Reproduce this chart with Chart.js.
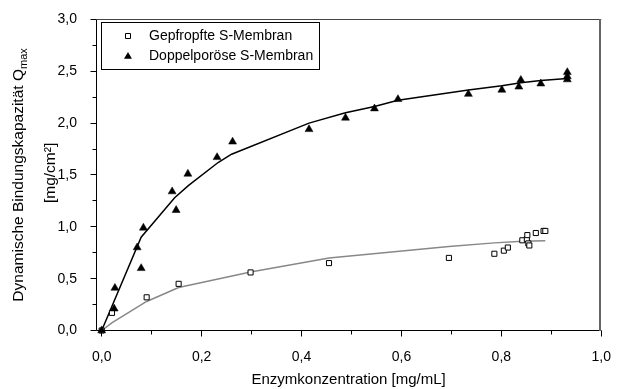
<!DOCTYPE html>
<html>
<head>
<meta charset="utf-8">
<script src="https://cdn.jsdelivr.net/npm/chart.js@4.4.1/dist/chart.umd.min.js"></script>
<style>
  body { margin: 0; background: #fff; }
  canvas { display: block; }
</style>
</head>
<body>
<canvas id="chart" width="621" height="389"></canvas>
<script>
const FONT = '"Liberation Sans", Arial, sans-serif';

// Messpunkte Doppelporöse S-Membran (Dreiecke)
const doppelX = [0, 0.025, 0.0265, 0.071, 0.079, 0.0835, 0.141, 0.149, 0.1725, 0.231, 0.262, 0.415,
                 0.488, 0.546, 0.593, 0.734, 0.801, 0.835, 0.839, 0.879, 0.932, 0.932, 0.932];
const doppelY = [0, 0.21, 0.41, 0.80, 0.60, 0.99, 1.34, 1.16, 1.51, 1.67, 1.82, 1.94,
                 2.05, 2.14, 2.23, 2.28, 2.32, 2.35, 2.415, 2.38, 2.42, 2.45, 2.49];

// Messpunkte Gepfropfte S-Membran (offene Quadrate)
const gepfX = [0, 0.0206, 0.09, 0.154, 0.298, 0.455, 0.695, 0.786, 0.805, 0.813, 0.842,
               0.851, 0.852, 0.854, 0.856, 0.869, 0.8845, 0.888];
const gepfY = [0, 0.17, 0.32, 0.45, 0.56, 0.65, 0.70, 0.74, 0.77, 0.80, 0.87,
               0.88, 0.92, 0.84, 0.82, 0.94, 0.96, 0.96];

// Fitkurven
const fitDoppelX = [0, 0.079, 0.146, 0.174, 0.233, 0.26, 0.415, 0.488, 0.546, 0.593, 0.734, 0.801, 0.839, 0.879, 0.932];
const fitDoppelY = [0, 0.90, 1.28, 1.40, 1.62, 1.70, 2.00, 2.10, 2.16, 2.22, 2.32, 2.36, 2.39, 2.41, 2.43];
const fitGepfX = [0, 0.021, 0.09, 0.154, 0.298, 0.455, 0.695, 0.786, 0.842, 0.888];
const fitGepfY = [0, 0.076, 0.28, 0.415, 0.565, 0.70, 0.81, 0.845, 0.86, 0.865];

// Achsenbeschriftung
const xMajor = [0, 0.2, 0.4, 0.6, 0.8, 1.0];
const xMinor = [0.1, 0.3, 0.5, 0.7, 0.9];
const yMajor = [0, 0.5, 1.0, 1.5, 2.0, 2.5, 3.0];
const yMinor = [0.25, 0.75, 1.25, 1.75, 2.25, 2.75];

const legendeTexte = ['Gepfropfte S-Membran', 'Doppelporöse S-Membran'];

const toPts = (xs, ys) => xs.map((x, i) => ({ x: x, y: ys[i] }));
const komma = v => Number(v).toFixed(1).replace('.', ',');
const crisp = v => Math.floor(v) + 0.5;

const rahmen = {
  id: 'rahmen',
  afterDraw(chart) {
    const ctx = chart.ctx;
    const a = chart.chartArea;
    const sx = chart.scales.x, sy = chart.scales.y;
    const L = crisp(a.left), B = crisp(a.bottom), T = crisp(a.top);
    ctx.save();

    // Rahmen
    ctx.lineWidth = 1;
    ctx.strokeStyle = '#000';
    ctx.beginPath();
    ctx.moveTo(L, T); ctx.lineTo(L, B); ctx.lineTo(a.right, B);
    ctx.stroke();
    ctx.strokeStyle = '#444';
    ctx.beginPath();
    ctx.moveTo(L, T); ctx.lineTo(a.right, T);
    ctx.stroke();
    ctx.lineWidth = 2;
    ctx.strokeStyle = '#666';
    ctx.beginPath();
    ctx.moveTo(Math.round(a.right) - 1, T - 0.5); ctx.lineTo(Math.round(a.right) - 1, B + 0.5);
    ctx.stroke();

    // Teilstriche
    ctx.lineWidth = 1;
    ctx.strokeStyle = '#000';
    ctx.beginPath();
    yMajor.forEach(v => { const p = crisp(sy.getPixelForValue(v)); ctx.moveTo(L - 6, p); ctx.lineTo(L, p); });
    yMinor.forEach(v => { const p = crisp(sy.getPixelForValue(v)); ctx.moveTo(L - 4, p); ctx.lineTo(L, p); });
    xMajor.forEach(v => { const p = crisp(sx.getPixelForValue(v)); ctx.moveTo(p, B); ctx.lineTo(p, B + 6); });
    xMinor.forEach(v => { const p = crisp(sx.getPixelForValue(v)); ctx.moveTo(p, B); ctx.lineTo(p, B + 4); });
    ctx.stroke();

    // Legende
    const lx = L + 5, ly = T + 3;
    ctx.fillStyle = '#fff';
    ctx.fillRect(lx, ly, 218, 47);
    ctx.strokeStyle = '#000';
    ctx.strokeRect(lx, ly, 218, 47);
    const sym = lx + 26.5;
    // Quadrat
    ctx.beginPath();
    ctx.rect(sym - 2.5, ly + 11, 5, 5);
    ctx.fill(); ctx.stroke();
    // Dreieck
    const r = 4.6, ty = ly + 34;
    ctx.fillStyle = '#000';
    ctx.beginPath();
    ctx.moveTo(sym, ty - r);
    ctx.lineTo(sym + r * 0.866, ty + r / 2);
    ctx.lineTo(sym - r * 0.866, ty + r / 2);
    ctx.closePath();
    ctx.fill();
    ctx.font = '14px ' + FONT;
    ctx.textBaseline = 'middle';
    ctx.textAlign = 'left';
    ctx.fillText(legendeTexte[0], lx + 47.5, ly + 13.5);
    ctx.fillText(legendeTexte[1], lx + 47.5, ly + 33.5);

    // Y-Achsentitel mit Index
    const mitte = (a.top + a.bottom) / 2;
    ctx.save();
    ctx.translate(19, mitte);
    ctx.rotate(-Math.PI / 2);
    const haupt = 'Dynamische Bindungskapazität Q';
    ctx.font = '15.5px ' + FONT;
    const w1 = ctx.measureText(haupt).width;
    ctx.font = '11px ' + FONT;
    const w2 = ctx.measureText('max').width;
    const x0 = -(w1 + w2) / 2;
    ctx.font = '15.5px ' + FONT;
    ctx.fillText(haupt, x0, 0);
    ctx.font = '11px ' + FONT;
    ctx.fillText('max', x0 + w1, 5);
    ctx.restore();

    ctx.save();
    ctx.translate(51, mitte - 2);
    ctx.rotate(-Math.PI / 2);
    ctx.font = '15.5px ' + FONT;
    ctx.textAlign = 'center';
    ctx.fillText('[mg/cm²]', 0, 0);
    ctx.restore();

    ctx.restore();
  }
};

new Chart(document.getElementById('chart'), {
  type: 'scatter',
  data: {
    datasets: [
      {
        label: 'Doppelporöse S-Membran',
        data: toPts(doppelX, doppelY),
        pointStyle: 'triangle',
        pointRadius: 4.6,
        backgroundColor: '#000',
        borderColor: '#000',
        borderWidth: 0.5,
        showLine: false,
        clip: false
      },
      {
        label: 'Gepfropfte S-Membran',
        data: toPts(gepfX, gepfY),
        pointStyle: 'rect',
        pointRadius: 3.6,
        backgroundColor: '#fff',
        borderColor: '#000',
        borderWidth: 1,
        showLine: false,
        clip: false
      },
      {
        label: 'Fit Doppelporös',
        data: toPts(fitDoppelX, fitDoppelY),
        showLine: true,
        pointRadius: 0,
        borderColor: '#000',
        borderWidth: 1.5,
        tension: 0,
        fill: false
      },
      {
        label: 'Fit Gepfropft',
        data: toPts(fitGepfX, fitGepfY),
        showLine: true,
        pointRadius: 0,
        borderColor: '#888',
        borderWidth: 1.5,
        tension: 0,
        fill: false
      }
    ]
  },
  options: {
    responsive: false,
    animation: false,
    devicePixelRatio: 1,
    layout: { padding: { top: 18.5, right: 10.3, left: 0, bottom: 0 } },
    plugins: { legend: { display: false }, tooltip: { enabled: false } },
    scales: {
      x: {
        type: 'linear',
        min: -0.0114,
        max: 1.0,
        afterFit: s => { s.height = 58.5; },
        afterBuildTicks: s => { s.ticks = xMajor.map(v => ({ value: v })); },
        grid: { display: false },
        border: { display: false },
        ticks: { color: '#000', font: { family: FONT, size: 14 }, padding: 10, maxRotation: 0, autoSkip: false, callback: komma },
        title: { display: true, text: 'Enzymkonzentration [mg/mL]', color: '#000', font: { family: FONT, size: 15 }, padding: 0 }
      },
      y: {
        type: 'linear',
        min: 0,
        max: 3.0,
        afterFit: s => { s.width = 96; },
        afterBuildTicks: s => { s.ticks = yMajor.map(v => ({ value: v })); },
        grid: { display: false },
        border: { display: false },
        ticks: { color: '#000', font: { family: FONT, size: 14 }, padding: 11, autoSkip: false, callback: komma }
      }
    }
  },
  plugins: [rahmen]
});
</script>
</body>
</html>
